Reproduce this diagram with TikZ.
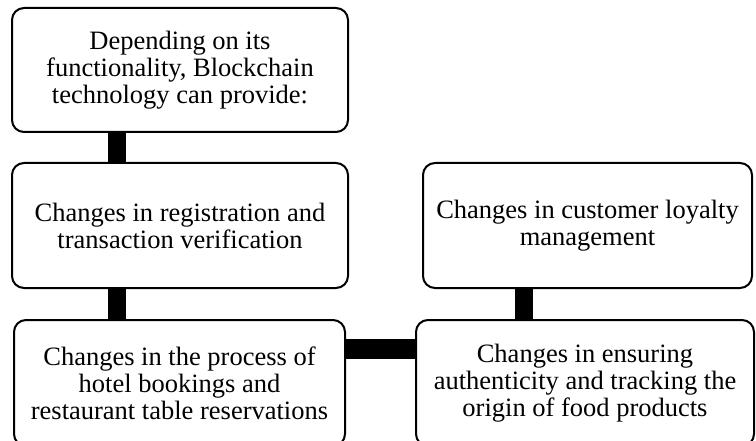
\documentclass[tikz,border=0pt]{standalone}
\usepackage{fontspec}
\setmainfont{Liberation Serif}

\begin{document}
\begin{tikzpicture}[x=1pt, y=-1pt,
    box/.style={draw, line width=2pt, rounded corners=12pt, fill=white,
                align=center, inner sep=0pt, font=\fontsize{26.5}{27}\selectfont},
    link/.style={line width=18pt}]
    \useasboundingbox (0,0) rectangle (756,441);
    \node[box, minimum width=336pt, minimum height=124pt] (provide) at (180,70)
          {Depending on its\\ functionality, Blockchain\\ technology can provide:};
    \node[box, minimum width=336pt, minimum height=125pt] (register) at (180,225.5)
          {Changes in registration and\\ transaction verification};
    \node[box, minimum width=331pt, minimum height=126pt] (booking) at (179.5,383)
          {Changes in the process of\\ hotel bookings and\\ restaurant table reservations};
    \node[box, minimum width=329pt, minimum height=125pt] (loyalty) at (587.5,225.5)
          {Changes in customer loyalty\\ management};
    \node[box, minimum width=338pt, minimum height=126pt] (origin) at (585,383)
          {Changes in ensuring\\ authenticity and tracking the\\ origin of food products};
    % thick bars between the boxes
    \draw[link] ([xshift=106pt]provide.south west) -- ([xshift=106pt]register.north west);
    \draw[link] ([xshift=106pt]register.south west) -- ([xshift=106pt]register.south west |- booking.north);
    \draw[link] ([xshift=102pt]loyalty.south west) -- ([xshift=102pt]loyalty.south west |- origin.north);
    \draw[link, line width=20pt] ([yshift=-30pt]booking.north east) -- ([yshift=-30pt]origin.north west);
  \end{tikzpicture}
\end{document}
